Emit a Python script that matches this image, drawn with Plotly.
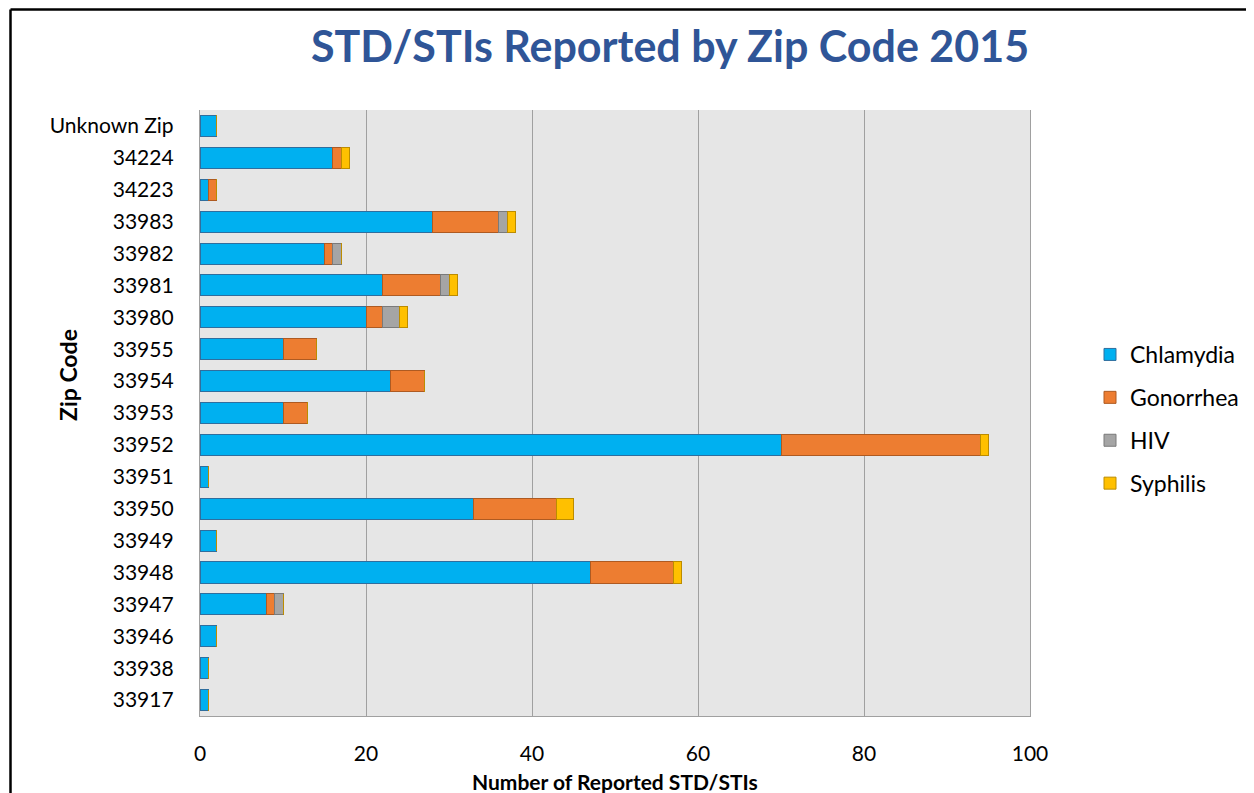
import plotly.graph_objects as go

zip_codes = ["Unknown Zip", "34224", "34223", "33983", "33982", "33981", "33980", "33955",
             "33954", "33953", "33952", "33951", "33950", "33949", "33948", "33947",
             "33946", "33938", "33917"]
chlamydia = [2, 16, 1, 28, 15, 22, 20, 10, 23, 10, 70, 1, 33, 2, 47, 8, 2, 1, 1]
gonorrhea = [0, 1, 1, 8, 1, 7, 2, 4, 4, 3, 24, 0, 10, 0, 10, 1, 0, 0, 0]
hiv       = [0, 0, 0, 1, 1, 1, 2, 0, 0, 0, 0, 0, 0, 0, 0, 1, 0, 0, 0]
syphilis  = [0, 1, 0, 1, 0, 1, 1, 0, 0, 0, 1, 0, 2, 0, 1, 0, 0, 0, 0]
x_ticks = [0, 20, 40, 60, 80, 100]

series = [
    ("Chlamydia", chlamydia, "#00B0F0", "#2F6E9E"),
    ("Gonorrhea", gonorrhea, "#ED7D31", "#AE5A21"),
    ("HIV", hiv, "#A5A5A5", "#7A7A7A"),
    ("Syphilis", syphilis, "#FFC000", "#BC8C00"),
]

FONT = "Lato"
OFF = 8  # browser default body margin
W, H = 1254, 793
# plot area in reference (window) pixel coordinates
PX0, PX1, PY0, PY1 = 200, 1030, 110, 716

fig_w, fig_h = W - OFF, H - OFF
L, R = PX0 - OFF, W - PX1
T, B = PY0 - OFF, H - PY1

fig = go.Figure()
for i, (name, vals, col, edge) in enumerate(series):
    fig.add_trace(go.Bar(
        y=zip_codes, x=vals, name=name, orientation="h",
        marker=dict(color=col, line=dict(color=edge, width=1)),
        legendgroup=f"g{i}",
    ))

pw = PX1 - PX0
ph = PY1 - PY0

def px_x(p):
    return (p - PX0) / pw

def px_y(p):
    return (PY1 - p) / ph

fig.update_layout(
    width=fig_w, height=fig_h,
    margin=dict(l=L, r=R, t=T, b=B, pad=0, autoexpand=False),
    barmode="stack", bargap=0.34,
    paper_bgcolor="white", plot_bgcolor="#E6E6E6",
    font=dict(family=FONT, size=20, color="#000000"),
    title=dict(text="<b>STD/STIs Reported by Zip Code 2015</b>",
               font=dict(family=FONT, size=43, color="#2F5597"),
               x=(670 - OFF) / fig_w, xanchor="center",
               y=1 - (47 - OFF) / fig_h, yanchor="middle"),
    legend=dict(x=px_x(1090), xanchor="left", y=px_y(333), yanchor="top",
                font=dict(family=FONT, size=23), tracegroupgap=10,
                bgcolor="rgba(0,0,0,0)", itemwidth=30),
    xaxis=dict(range=[0, 100], tickvals=x_ticks, showgrid=True,
               gridcolor="#A0A0A0", gridwidth=1.3, zeroline=False,
               showline=True, linecolor="#A0A0A0", linewidth=1.3,
               ticks="outside", ticklen=19, tickcolor="rgba(0,0,0,0)",
               tickfont=dict(family=FONT, size=21)),
    yaxis=dict(autorange="reversed", showgrid=False, showline=True, mirror=True,
               linecolor="#A0A0A0", linewidth=1.3,
               ticks="outside", ticklen=21, tickcolor="rgba(0,0,0,0)",
               tickfont=dict(family=FONT, size=21)),
    annotations=[
        dict(text="<b>Number of Reported STD/STIs</b>", xref="paper", yref="paper",
             x=px_x(615), y=px_y(781), xanchor="center", yanchor="middle",
             showarrow=False, font=dict(family=FONT, size=21)),
        dict(text="<b>Zip Code</b>", xref="paper", yref="paper",
             x=px_x(68), y=px_y(375), xanchor="center", yanchor="middle",
             textangle=-90, showarrow=False, font=dict(family=FONT, size=23)),
    ],
    shapes=[
        dict(type="line", xref="paper", yref="paper",
             x0=px_x(10.5), x1=px_x(10.5), y0=px_y(9.5), y1=px_y(800),
             line=dict(color="black", width=2.5)),
        dict(type="line", xref="paper", yref="paper",
             x0=px_x(10.5), x1=px_x(1260), y0=px_y(9.5), y1=px_y(9.5),
             line=dict(color="black", width=2.5)),
    ],
)

fig.write_html("out.html")
